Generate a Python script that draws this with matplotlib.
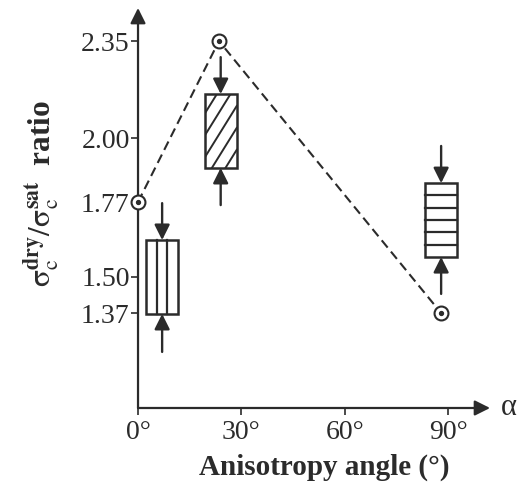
import numpy as np
import matplotlib.pyplot as plt
from matplotlib.patches import Rectangle

plt.rcParams['font.family'] = ['Liberation Serif', 'DejaVu Serif']
plt.rcParams['mathtext.fontset'] = 'stix'

ink = '#2b2b2b'

# dashed line through the ratio points
line_angle = [0, 23.5, 88]
line_ratio = [1.77, 2.35, 1.37]

# boxes (angle position, lower / upper edge)
box_angle = [7, 24, 88]
box_low = [1.367, 1.893, 1.572]
box_high = [1.633, 2.159, 1.838]
box_fill = ['vertical', 'diagonal', 'horizontal']
# arrow start values above and below each box
arrow_top = [1.766, 2.292, 1.972]
arrow_bottom = [1.23, 1.759, 1.439]

yticks = [1.37, 1.50, 1.77, 2.00, 2.35]
xticks = [0, 30, 60, 90]
xticklabels = ['0°', '30°', '60°', '90°']

fig = plt.figure(figsize=(5.28, 4.94), dpi=100)
ax = fig.add_axes([0.2614, 0.1741, 0.6667, 0.8097])
ax.set_xlim(0, 102.2)
ax.set_ylim(1.028, 2.469)

for s in ax.spines.values():
    s.set_visible(False)

# axis lines with arrow heads
ap = dict(arrowstyle='-|>', color=ink, lw=1.6, mutation_scale=23, shrinkA=0, shrinkB=0)
ax.annotate('', xy=(1, 0), xytext=(0, 0), xycoords='axes fraction', arrowprops=ap, annotation_clip=False)
ax.annotate('', xy=(0, 1), xytext=(0, 0), xycoords='axes fraction', arrowprops=ap, annotation_clip=False)

ax.set_yticks(yticks)
ax.set_yticklabels(['%.2f' % v for v in yticks])
ax.set_xticks(xticks)
ax.set_xticklabels(xticklabels)
ax.tick_params(axis='both', colors=ink, labelsize=20, width=1.2, length=5, direction='out')
ax.tick_params(axis='y', pad=1)
ax.tick_params(axis='x', pad=4)

ax.plot(line_angle, line_ratio, ls=(0, (4.5, 2.5)), color=ink, lw=1.5, zorder=3)
ax.plot(line_angle, line_ratio, 'o', ms=10, mfc='white', mec=ink, mew=1.5, zorder=4, clip_on=False)
ax.plot(line_angle, line_ratio, 'o', ms=2.8, color=ink, zorder=5, clip_on=False)

box_w = 9.3
for a, lo, hi, f, t, b in zip(box_angle, box_low, box_high, box_fill, arrow_top, arrow_bottom):
    x0, x1 = a - box_w / 2, a + box_w / 2
    r = Rectangle((x0, lo), box_w, hi - lo, facecolor='white', edgecolor=ink, lw=1.8, zorder=2)
    ax.add_patch(r)
    if f == 'vertical':
        for k in (1, 2):
            xv = x0 + k * box_w / 3
            ax.plot([xv, xv], [lo, hi], color=ink, lw=1.6, zorder=2.5)
    elif f == 'horizontal':
        for k in range(1, 6):
            yh = lo + k * (hi - lo) / 6
            ax.plot([x0, x1], [yh, yh], color=ink, lw=1.6, zorder=2.5)
    else:
        slope = 0.02
        for off in np.arange(-0.2, hi - lo + 0.01, 0.079):
            ln, = ax.plot([x0, x1], [lo + off, lo + off + slope * box_w], color=ink, lw=1.4, zorder=2.5)
            ln.set_clip_path(r)
    arr = dict(arrowstyle='-|>', color=ink, lw=1.7, mutation_scale=23, shrinkA=0, shrinkB=0)
    ax.annotate('', xy=(a, hi), xytext=(a, t), arrowprops=arr)
    ax.annotate('', xy=(a, lo), xytext=(a, b), arrowprops=arr)

ax.set_xlabel('Anisotropy angle (°)', fontsize=21, fontweight='bold', color=ink)
ax.xaxis.set_label_coords(0.53, -0.115)
ax.set_ylabel(r'$\mathrm{\sigma}_{\mathrm{c}}^{\mathbf{dry}}/\mathrm{\sigma}_{\mathrm{c}}^{\mathbf{sat}}$  ratio',
              fontsize=22.5, fontweight='bold', color=ink)
ax.yaxis.set_label_coords(-0.215, 0.535)

ax.text(1.03, 0, 'α', transform=ax.transAxes, fontsize=22, color=ink, va='center', ha='left')

fig.savefig('out.png', dpi=100)
